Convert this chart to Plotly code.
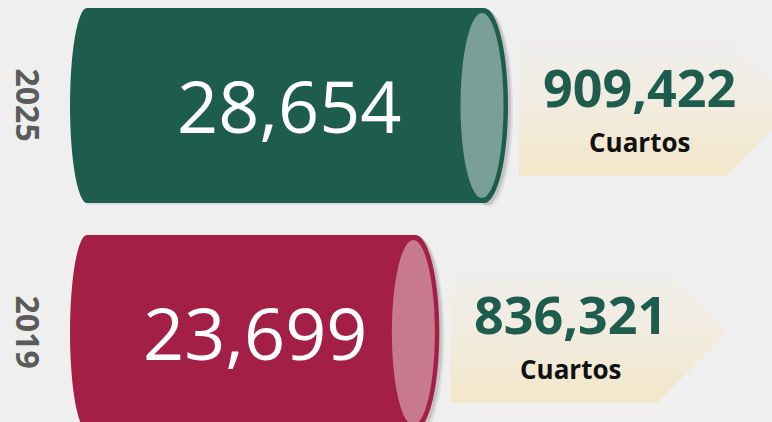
import plotly.graph_objects as go

# ---- data ----
years = ["2025", "2019"]
establishments = [28654, 23699]
rooms = [909422, 836321]
room_unit = "Cuartos"

# ---- style ----
body_colors = ["#1E5C4E", "#A31F45"]
face_colors = ["#7A9F96", "#C77A8E"]
W, H = 772, 422
FONT = "Open Sans, Noto Sans, sans-serif"

ypos = list(range(len(years)))
vmax = max(establishments)
ppu = (484 - 87) / vmax            # pixels per data unit (x)
xr = [-87 / ppu, (W - 87) / ppu]
py = 227.0                          # pixels per category unit (y)
yr = [(H - 105.5) / py, -105.5 / py]
bar_w = 195 / py
half_h = 97.5

fig = go.Figure()

fig.add_trace(go.Bar(
    x=establishments, y=ypos, orientation="h", width=bar_w, base=0,
    marker=dict(color=body_colors, line=dict(width=0)),
    hoverinfo="skip", showlegend=False,
))

shapes = []
annotations = []
for i, (yr_lbl, v, r) in enumerate(zip(years, establishments, rooms)):
    col, face = body_colors[i], face_colors[i]
    # soft shadow
    for dx, dy, a in [(5, 4, 0.07), (3, 2, 0.12)]:
        shapes.append(dict(type="rect", layer="below", xref="x", yref="y",
                           x0=0, x1=v, ysizemode="pixel", yanchor=i,
                           y0=-half_h - dy + 2, y1=half_h - dy,
                           fillcolor=f"rgba(0,0,0,{a})", line=dict(width=0)))
        shapes.append(dict(type="circle", layer="below", xref="x", yref="y",
                           xsizemode="pixel", xanchor=v, x0=-24 + dx, x1=24 + dx,
                           ysizemode="pixel", yanchor=i, y0=-half_h - dy, y1=half_h - dy,
                           fillcolor=f"rgba(0,0,0,{a})", line=dict(width=0)))
    # left rounded end
    shapes.append(dict(type="circle", layer="below", xref="x", yref="y",
                       xsizemode="pixel", xanchor=0, x0=-17, x1=17,
                       ysizemode="pixel", yanchor=i, y0=-half_h, y1=half_h,
                       fillcolor=col, line=dict(width=0)))
    # right end (rim + face)
    shapes.append(dict(type="circle", layer="above", xref="x", yref="y",
                       xsizemode="pixel", xanchor=v, x0=-24, x1=24,
                       ysizemode="pixel", yanchor=i, y0=-half_h, y1=half_h,
                       fillcolor=col, line=dict(width=0)))
    shapes.append(dict(type="circle", layer="above", xref="x", yref="y",
                       xsizemode="pixel", xanchor=v, x0=-23.5, x1=19.5,
                       ysizemode="pixel", yanchor=i, y0=-92.5, y1=92.5,
                       fillcolor=face, line=dict(width=0)))

    # callout arrow (gradient)
    L, R, T, hh = 35, 242, 312, 70
    xs = [v + o / ppu for o in (L, R, T, R, L, L)]
    ys = [i + o / py for o in (-hh, -hh, 0, hh, hh, -hh)]
    fig.add_trace(go.Scatter(
        x=xs, y=ys, mode="lines", fill="toself", line=dict(width=0),
        fillgradient=dict(type="vertical",
                          colorscale=[[0, "rgba(243,230,200,1)"],
                                      [0.55, "rgba(243,234,214,0.55)"],
                                      [1, "rgba(243,231,203,0)"]]),
        hoverinfo="skip", showlegend=False,
    ))

    # main value
    annotations.append(dict(x=v / 2, y=i, xref="x", yref="y", xshift=3.5, yshift=1,
                            text=f"{v:,}", showarrow=False,
                            font=dict(family=FONT, size=72, color="white")))
    # rooms
    annotations.append(dict(x=v, y=i, xref="x", yref="y", xshift=155, yshift=-17,
                            yanchor="bottom", borderpad=0,
                            text=f"<b>{r:,}</b>", showarrow=False,
                            font=dict(family=FONT, size=52, color="#1E5C4E")))
    annotations.append(dict(x=v, y=i, xref="x", yref="y", xshift=155, yshift=-17,
                            yanchor="top", borderpad=0,
                            text=f"<b>{room_unit}</b>", showarrow=False,
                            font=dict(family=FONT, size=26, color="#111111")))
    # year label
    annotations.append(dict(x=28 / W, y=i, xref="paper", yref="y", xanchor="center",
                            text=f"<b>{yr_lbl}</b>", showarrow=False, textangle=90,
                            font=dict(family=FONT, size=32, color="#5B5B5B")))

fig.update_layout(
    width=W, height=H, margin=dict(l=0, r=0, t=0, b=0),
    paper_bgcolor="#EFEFEF", plot_bgcolor="#EFEFEF",
    xaxis=dict(range=xr, visible=False, fixedrange=True),
    yaxis=dict(range=yr, visible=False, fixedrange=True),
    shapes=shapes, annotations=annotations, bargap=0,
)

fig.write_html("out.html", config={"displayModeBar": False, "staticPlot": True})

# remove default page margin so the figure fills the window
with open("out.html", encoding="utf-8") as f:
    html = f.read()
html = html.replace("<body>", '<body style="margin:0;background:#EFEFEF;overflow:hidden">', 1)
with open("out.html", "w", encoding="utf-8") as f:
    f.write(html)
